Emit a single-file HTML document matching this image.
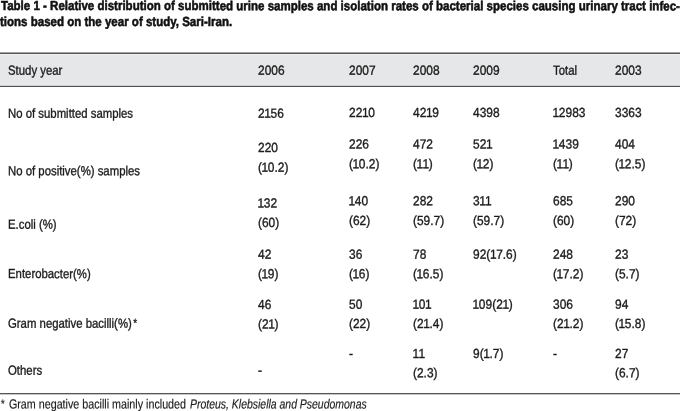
<!DOCTYPE html>
<html lang="en"><head><meta charset="utf-8"><title>Table 1</title>
<style>
html,body{margin:0;padding:0;background:#fff;}
body{width:680px;height:411px;position:relative;overflow:hidden;font-family:"Liberation Sans",sans-serif;color:#1c1c1c;}
#w{position:absolute;left:0;top:0;width:680px;height:411px;will-change:transform;}
.t{position:absolute;white-space:nowrap;font-size:13.2px;line-height:16px;transform-origin:0 0;-webkit-text-stroke:0.36px #1c1c1c;}
.cap{position:absolute;white-space:nowrap;font-weight:bold;font-size:13.2px;line-height:16px;transform-origin:0 0;color:#111;-webkit-text-stroke:0.55px #111;}
.o{margin:0 -0.45px 0 -0.45px;}
.a{margin-left:1.8px;font-size:11.5px;position:relative;top:-0.8px;}
.f{-webkit-text-stroke-width:0.18px;}
.band{position:absolute;left:0;top:54px;width:680px;height:32px;background:#e6e7e8;}
.ln{position:absolute;left:0;width:680px;height:1px;background:#444;}
</style></head><body><div id="w">
<div class="cap" style="left:0.6px;top:-2px;transform:matrix(0.8734,0.0005,0,1,0,0.00)">Table 1 - Relative distribution of submitted urine samples and isolation rates of bacterial species causing urinary tract infec-</div>
<div class="cap" style="left:0.2px;top:13px;transform:matrix(0.8734,0.0005,0,1,0,0.90)">tions based on the year of study, Sari-Iran.</div>
<div class="band"></div>
<div class="ln" style="top:52px;background:#a4a4a4"></div>
<div class="ln" style="top:53px;background:#565656"></div>
<div class="ln" style="top:54px;background:#f1f1f2"></div>
<div class="ln" style="top:85px;background:#d2d2d3"></div>
<div class="ln" style="top:86px;background:#505050"></div>
<span class="t" style="left:7.9px;top:62px;transform:matrix(0.8617,0.0005,0,1,0,0.80)">Study year</span>
<span class="t" style="left:257.5px;top:62px;transform:matrix(0.9061,0.0005,0,1,0,0.80)">2006</span>
<span class="t" style="left:348.6px;top:62px;transform:matrix(0.9061,0.0005,0,1,0,0.80)">2007</span>
<span class="t" style="left:412.9px;top:62px;transform:matrix(0.9061,0.0005,0,1,0,0.80)">2008</span>
<span class="t" style="left:472.9px;top:62px;transform:matrix(0.9061,0.0005,0,1,0,0.80)">2009</span>
<span class="t" style="left:552.5px;top:62px;transform:matrix(0.8617,0.0005,0,1,0,0.80)">Total</span>
<span class="t" style="left:614.6px;top:62px;transform:matrix(0.9061,0.0005,0,1,0,0.80)">2003</span>
<span class="t" style="left:7.9px;top:105px;transform:matrix(0.8617,0.0005,0,1,0,0.80)">No of submitted samples</span>
<span class="t" style="left:257.5px;top:105px;transform:matrix(0.9061,0.0005,0,1,0,0.70)">2<span class="o">1</span>56</span>
<span class="t" style="left:348.6px;top:105px;transform:matrix(0.9061,0.0005,0,1,0,0.00)">22<span class="o">1</span>0</span>
<span class="t" style="left:412.9px;top:105px;transform:matrix(0.9061,0.0005,0,1,0,0.00)">42<span class="o">1</span>9</span>
<span class="t" style="left:472.9px;top:105px;transform:matrix(0.9061,0.0005,0,1,0,0.00)">4398</span>
<span class="t" style="left:552.5px;top:105px;transform:matrix(0.9061,0.0005,0,1,0,0.00)"><span class="o">1</span>2983</span>
<span class="t" style="left:614.6px;top:105px;transform:matrix(0.9061,0.0005,0,1,0,0.00)">3363</span>
<span class="t" style="left:7.9px;top:163px;transform:matrix(0.8617,0.0005,0,1,0,0.20)">No of positive(%) samples</span>
<span class="t" style="left:257.5px;top:140px;transform:matrix(0.9061,0.0005,0,1,0,0.00)">220</span>
<span class="t" style="left:257.5px;top:159px;transform:matrix(0.9061,0.0005,0,1,0,0.80)">(<span class="o">1</span>0.2)</span>
<span class="t" style="left:348.6px;top:136px;transform:matrix(0.9061,0.0005,0,1,0,0.60)">226</span>
<span class="t" style="left:348.6px;top:156px;transform:matrix(0.9061,0.0005,0,1,0,0.30)">(<span class="o">1</span>0.2)</span>
<span class="t" style="left:412.9px;top:136px;transform:matrix(0.9061,0.0005,0,1,0,0.60)">472</span>
<span class="t" style="left:412.9px;top:156px;transform:matrix(0.9061,0.0005,0,1,0,0.30)">(<span class="o">1</span><span class="o">1</span>)</span>
<span class="t" style="left:472.9px;top:136px;transform:matrix(0.9061,0.0005,0,1,0,0.60)">52<span class="o">1</span></span>
<span class="t" style="left:472.9px;top:156px;transform:matrix(0.9061,0.0005,0,1,0,0.30)">(<span class="o">1</span>2)</span>
<span class="t" style="left:552.5px;top:136px;transform:matrix(0.9061,0.0005,0,1,0,0.60)"><span class="o">1</span>439</span>
<span class="t" style="left:552.5px;top:156px;transform:matrix(0.9061,0.0005,0,1,0,0.30)">(<span class="o">1</span><span class="o">1</span>)</span>
<span class="t" style="left:614.6px;top:136px;transform:matrix(0.9061,0.0005,0,1,0,0.60)">404</span>
<span class="t" style="left:614.6px;top:156px;transform:matrix(0.9061,0.0005,0,1,0,0.30)">(<span class="o">1</span>2.5)</span>
<span class="t" style="left:7.9px;top:216px;transform:matrix(0.8617,0.0005,0,1,0,0.70)">E.coli (%)</span>
<span class="t" style="left:257.5px;top:195px;transform:matrix(0.9061,0.0005,0,1,0,0.40)"><span class="o">1</span>32</span>
<span class="t" style="left:257.5px;top:215px;transform:matrix(0.9061,0.0005,0,1,0,0.10)">(60)</span>
<span class="t" style="left:348.6px;top:193px;transform:matrix(0.9061,0.0005,0,1,0,0.20)"><span class="o">1</span>40</span>
<span class="t" style="left:348.6px;top:212px;transform:matrix(0.9061,0.0005,0,1,0,0.90)">(62)</span>
<span class="t" style="left:412.9px;top:193px;transform:matrix(0.9061,0.0005,0,1,0,0.20)">282</span>
<span class="t" style="left:412.9px;top:212px;transform:matrix(0.9061,0.0005,0,1,0,0.90)">(59.7)</span>
<span class="t" style="left:472.9px;top:193px;transform:matrix(0.9061,0.0005,0,1,0,0.20)">3<span class="o">1</span><span class="o">1</span></span>
<span class="t" style="left:472.9px;top:212px;transform:matrix(0.9061,0.0005,0,1,0,0.90)">(59.7)</span>
<span class="t" style="left:552.5px;top:193px;transform:matrix(0.9061,0.0005,0,1,0,0.20)">685</span>
<span class="t" style="left:552.5px;top:212px;transform:matrix(0.9061,0.0005,0,1,0,0.90)">(60)</span>
<span class="t" style="left:614.6px;top:193px;transform:matrix(0.9061,0.0005,0,1,0,0.20)">290</span>
<span class="t" style="left:614.6px;top:212px;transform:matrix(0.9061,0.0005,0,1,0,0.90)">(72)</span>
<span class="t" style="left:7.9px;top:266px;transform:matrix(0.8617,0.0005,0,1,0,0.10)">Enterobacter(%)</span>
<span class="t" style="left:257.5px;top:246px;transform:matrix(0.9061,0.0005,0,1,0,0.70)">42</span>
<span class="t" style="left:257.5px;top:266px;transform:matrix(0.9061,0.0005,0,1,0,0.30)">(<span class="o">1</span>9)</span>
<span class="t" style="left:348.6px;top:246px;transform:matrix(0.9061,0.0005,0,1,0,0.70)">36</span>
<span class="t" style="left:348.6px;top:266px;transform:matrix(0.9061,0.0005,0,1,0,0.30)">(<span class="o">1</span>6)</span>
<span class="t" style="left:412.9px;top:246px;transform:matrix(0.9061,0.0005,0,1,0,0.70)">78</span>
<span class="t" style="left:412.9px;top:266px;transform:matrix(0.9061,0.0005,0,1,0,0.30)">(<span class="o">1</span>6.5)</span>
<span class="t" style="left:472.9px;top:246px;transform:matrix(0.9061,0.0005,0,1,0,0.70)">92(<span class="o">1</span>7.6)</span>
<span class="t" style="left:552.5px;top:246px;transform:matrix(0.9061,0.0005,0,1,0,0.70)">248</span>
<span class="t" style="left:552.5px;top:266px;transform:matrix(0.9061,0.0005,0,1,0,0.30)">(<span class="o">1</span>7.2)</span>
<span class="t" style="left:614.6px;top:246px;transform:matrix(0.9061,0.0005,0,1,0,0.70)">23</span>
<span class="t" style="left:614.6px;top:266px;transform:matrix(0.9061,0.0005,0,1,0,0.30)">(5.7)</span>
<span class="t" style="left:7.9px;top:315px;transform:matrix(0.8617,0.0005,0,1,0,0.80)">Gram negative bacilli(%)<span class="a">*</span></span>
<span class="t" style="left:257.5px;top:297px;transform:matrix(0.9061,0.0005,0,1,0,0.10)">46</span>
<span class="t" style="left:257.5px;top:316px;transform:matrix(0.9061,0.0005,0,1,0,0.50)">(2<span class="o">1</span>)</span>
<span class="t" style="left:348.6px;top:296px;transform:matrix(0.9061,0.0005,0,1,0,0.80)">50</span>
<span class="t" style="left:348.6px;top:316px;transform:matrix(0.9061,0.0005,0,1,0,0.10)">(22)</span>
<span class="t" style="left:412.9px;top:296px;transform:matrix(0.9061,0.0005,0,1,0,0.80)"><span class="o">1</span>0<span class="o">1</span></span>
<span class="t" style="left:412.9px;top:316px;transform:matrix(0.9061,0.0005,0,1,0,0.10)">(2<span class="o">1</span>.4)</span>
<span class="t" style="left:472.9px;top:296px;transform:matrix(0.9061,0.0005,0,1,0,0.80)"><span class="o">1</span>09(2<span class="o">1</span>)</span>
<span class="t" style="left:552.5px;top:296px;transform:matrix(0.9061,0.0005,0,1,0,0.80)">306</span>
<span class="t" style="left:552.5px;top:316px;transform:matrix(0.9061,0.0005,0,1,0,0.10)">(2<span class="o">1</span>.2)</span>
<span class="t" style="left:614.6px;top:296px;transform:matrix(0.9061,0.0005,0,1,0,0.80)">94</span>
<span class="t" style="left:614.6px;top:316px;transform:matrix(0.9061,0.0005,0,1,0,0.10)">(<span class="o">1</span>5.8)</span>
<span class="t" style="left:7.9px;top:362px;transform:matrix(0.8617,0.0005,0,1,0,0.70)">Others</span>
<span class="t" style="left:257.5px;top:362px;transform:matrix(0.9061,0.0005,0,1,0,0.70)">-</span>
<span class="t" style="left:348.6px;top:346px;transform:matrix(0.9061,0.0005,0,1,0,0.00)">-</span>
<span class="t" style="left:412.9px;top:346px;transform:matrix(0.9061,0.0005,0,1,0,0.00)"><span class="o">1</span><span class="o">1</span></span>
<span class="t" style="left:412.9px;top:365px;transform:matrix(0.9061,0.0005,0,1,0,0.30)">(2.3)</span>
<span class="t" style="left:472.9px;top:346px;transform:matrix(0.9061,0.0005,0,1,0,0.00)">9(<span class="o">1</span>.7)</span>
<span class="t" style="left:552.5px;top:346px;transform:matrix(0.9061,0.0005,0,1,0,0.00)">-</span>
<span class="t" style="left:614.6px;top:346px;transform:matrix(0.9061,0.0005,0,1,0,0.00)">27</span>
<span class="t" style="left:614.6px;top:365px;transform:matrix(0.9061,0.0005,0,1,0,0.30)">(6.7)</span>
<div class="ln" style="top:393px;background:#565656"></div>
<div class="ln" style="top:394px;background:#c6c6c6"></div>
<div class="t f" style="left:0.8px;top:396px;transform:matrix(0.8135,0.0005,0,1,0,0.40)"><span style="font-size:11.5px;position:relative;top:-0.8px;margin-right:1.6px">*</span> Gram negative bacilli mainly included</div>
<div class="t f" style="left:189.6px;top:396px;transform:matrix(0.7928,0.0005,0,1,0,0.40)"><i>Proteus, Klebsiella and Pseudomonas</i></div>
</div></body></html>
